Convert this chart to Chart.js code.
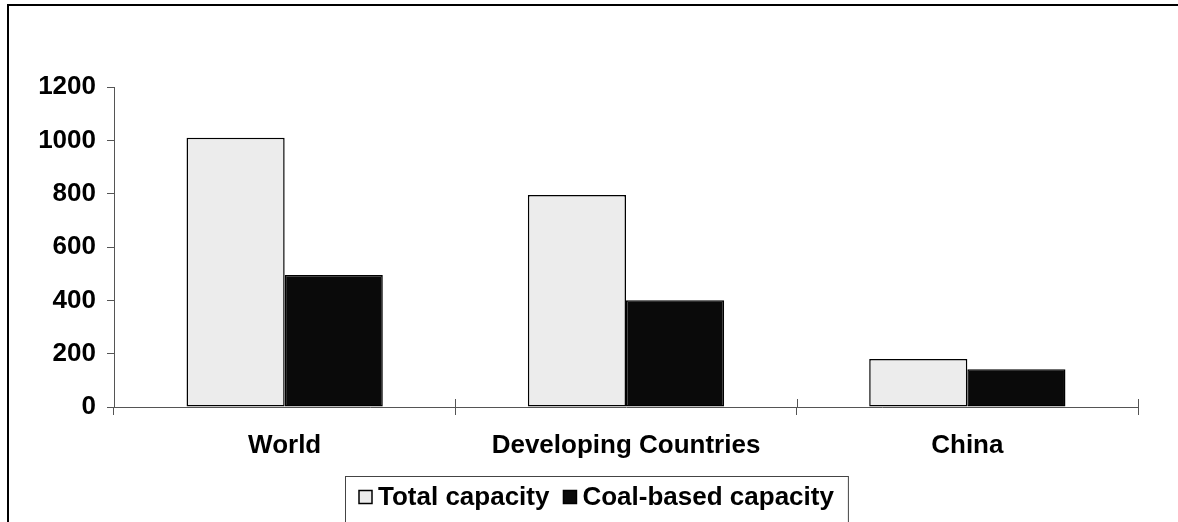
<!DOCTYPE html>
<html>
<head>
<meta charset="utf-8">
<script src="https://cdn.jsdelivr.net/npm/chart.js@4"></script>
<style>
  html, body { margin:0; padding:0; background:#fff; }
  #wrap { width:1178px; height:522px; position:relative; }
</style>
</head>
<body>
<div id="wrap"><canvas id="c" width="1178" height="522"></canvas></div>
<script>
// ─── Data ───────────────────────────────────────────────────────────────────
const categories   = ['World', 'Developing Countries', 'China'];
const totalCap     = [1010, 795, 180];
const coalCap      = [495, 400, 142];
const seriesNames  = ['Total capacity', 'Coal-based capacity'];
const yTicks       = [0, 200, 400, 600, 800, 1000, 1200];

// ─── Style ──────────────────────────────────────────────────────────────────
const FONT = { family:'"Liberation Sans", Arial, sans-serif', size:26, weight:'bold' };
const AXIS = '#555';

// outer frame + crossing category ticks + boxed legend
const framePlugin = {
  id: 'frame',
  afterDraw(chart) {
    const ctx = chart.ctx;
    const xs = chart.scales.x;
    ctx.save();
    // frame (cut off on right & bottom like the source)
    ctx.strokeStyle = '#000';
    ctx.lineWidth = 2;
    ctx.beginPath();
    ctx.moveTo(8, chart.height + 5);
    ctx.lineTo(8, 5);
    ctx.lineTo(chart.width + 5, 5);
    ctx.stroke();

    // upper half of category boundary ticks
    ctx.strokeStyle = AXIS;
    ctx.lineWidth = 1;
    const n = categories.length;
    const step = (xs.right - xs.left) / n;
    for (let k = 0; k <= n; k++) {
      const x = Math.round(xs.left + k * step) + 0.5;
      ctx.beginPath();
      ctx.moveTo(x, xs.top - 8);
      ctx.lineTo(x, xs.top);
      ctx.stroke();
    }

    // legend
    ctx.font = `${FONT.weight} ${FONT.size}px ${FONT.family}`;
    ctx.textBaseline = 'middle';
    const sw = 13, gap = 6, itemGap = 14, padX = 14;
    const items = chart.data.datasets.map(ds => ({
      label: ds.label, fill: ds.backgroundColor, w: sw + gap + ctx.measureText(ds.label).width
    }));
    const inner = items.reduce((a, it) => a + it.w, 0) + itemGap * (items.length - 1);
    const boxW = inner + padX * 2;
    const boxL = Math.round(596 - boxW / 2);
    const boxT = 476;
    ctx.strokeStyle = '#444';
    ctx.lineWidth = 1;
    ctx.strokeRect(boxL + 0.5, boxT + 0.5, boxW, 60);
    let x = boxL + padX;
    const cy = boxT + 21;
    items.forEach(it => {
      ctx.fillStyle = it.fill;
      ctx.fillRect(x, cy - sw / 2, sw, sw);
      ctx.strokeStyle = '#000';
      ctx.lineWidth = 1.5;
      ctx.strokeRect(x, cy - sw / 2, sw, sw);
      ctx.fillStyle = '#000';
      ctx.textAlign = 'left';
      ctx.fillText(it.label, x + sw + gap, cy + 1);
      x += it.w + itemGap;
    });
    ctx.restore();
  }
};

new Chart(document.getElementById('c').getContext('2d'), {
  type: 'bar',
  data: {
    labels: categories,
    datasets: [
      { label: seriesNames[0], data: totalCap, backgroundColor: '#ececec',
        borderColor: '#000', borderWidth: 1.5, borderSkipped: false },
      { label: seriesNames[1], data: coalCap, backgroundColor: '#0a0a0a',
        borderColor: '#000', borderWidth: 1.5, borderSkipped: false }
    ]
  },
  options: {
    responsive: false,
    animation: false,
    devicePixelRatio: 1,
    layout: { padding: { left: 0, top: 87, right: 40, bottom: 55 } },
    categoryPercentage: 0.575,
    barPercentage: 1.0,
    plugins: { legend: { display: false }, tooltip: { enabled: false } },
    scales: {
      x: {
        grid: { display: true, drawOnChartArea: false, drawTicks: true, tickLength: 8, color: AXIS, offset: true },
        border: { display: true, color: AXIS, width: 1 },
        ticks: { color: '#000', font: FONT, padding: 15, maxRotation: 0 },
        afterFit(s) { s.height = 60; }
      },
      y: {
        min: 0, max: 1200,
        afterBuildTicks(s) { s.ticks = yTicks.map(v => ({ value: v })); },
        grid: { display: true, drawOnChartArea: false, drawTicks: true, tickLength: 7, color: AXIS },
        border: { display: true, color: AXIS, width: 1 },
        ticks: { color: '#000', font: FONT, padding: 11, callback: v => String(v) },
        afterFit(s) { s.width = 114; }
      }
    }
  },
  plugins: [framePlugin]
});
</script>
</body>
</html>
